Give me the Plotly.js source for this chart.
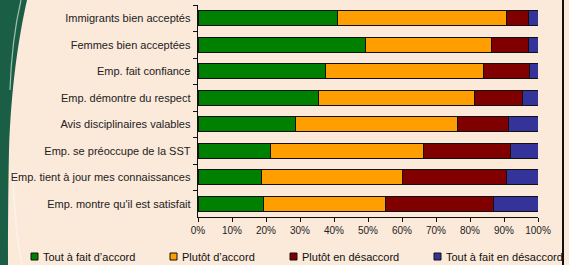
<!DOCTYPE html>
<html>
<head>
<meta charset="utf-8">
<script src="https://cdn.plot.ly/plotly-3.0.1.min.js"></script>
<style>
html,body{margin:0;padding:0;background:#FBE9DA;overflow:hidden;}
#wrap{position:relative;width:569px;height:265px;}
#deco{position:absolute;left:0;top:0;}
#chart{position:absolute;left:0;top:0;width:569px;height:265px;}
</style>
</head>
<body>
<div id="wrap">
<svg id="deco" width="569" height="265">
  <path d="M0,0 L27,0 C18,40 11,90 9,150 C8,200 8,240 8,265 L0,265 Z" fill="#1B5E46"/>
  <path d="M21,0 C14,30 11,60 10,90" stroke="#D8E8D8" stroke-width="1.2" fill="none" opacity="0.7"/>
  <path d="M13,170 C14,210 17,240 22,265" stroke="#FFF6EE" stroke-width="2" fill="none" opacity="0.6"/>
  <rect x="562" y="0" width="2" height="265" fill="#111"/>
</svg>
<div id="chart"></div>
</div>
<script>
const categories = [
  "Immigrants bien acceptés",
  "Femmes bien acceptées",
  "Emp. fait confiance",
  "Emp. démontre du respect",
  "Avis disciplinaires valables",
  "Emp. se préoccupe de la SST",
  "Emp. tient à jour mes connaissances",
  "Emp. montre qu'il est satisfait"
];
const seriesNames = ["Tout à fait d’accord", "Plutôt d’accord", "Plutôt en désaccord", "Tout à fait en désaccord"];
const toutAccord     = [41.1, 49.3, 37.6, 35.5, 28.6, 21.3, 18.7, 19.4];
const plutotAccord   = [49.5, 37.0, 46.3, 45.7, 47.7, 45.0, 41.5, 35.7];
const plutotDesac    = [6.6, 10.9, 13.6, 14.2, 15.0, 25.5, 30.4, 31.8];
const toutDesac      = [2.8, 2.8, 2.5, 4.6, 8.7, 8.2, 9.4, 13.1];
const xTickVals = [0,10,20,30,40,50,60,70,80,90,100];
const xTickText = ["0%","10%","20%","30%","40%","50%","60%","70%","80%","90%","100%"];
const colors = ["#008000", "#FF9E00", "#800000", "#333399"];

const W = 569, H = 265;
const M = {l: 198, r: 31, t: 5, b: 48};
const plotW = W - M.l - M.r, plotH = H - M.t - M.b;
const px2x = px => (px - M.l) / plotW;
const py2y = py => (H - M.b - py) / plotH;

const values = [toutAccord, plutotAccord, plutotDesac, toutDesac];
const traces = values.map((v, i) => ({
  type: "bar",
  orientation: "h",
  name: seriesNames[i],
  x: v,
  y: categories,
  marker: {color: colors[i], line: {color: "#111", width: 1}},
  hoverinfo: "skip",
  showlegend: false
}));

// manual legend (small square swatches like the original)
const legendLeft = [31, 170, 290, 434];
const legendMidY = 256.5;
const shapes = [];
const annotations = [];
seriesNames.forEach((name, i) => {
  const x0 = legendLeft[i];
  shapes.push({
    type: "rect", xref: "paper", yref: "paper",
    x0: px2x(x0), x1: px2x(x0 + 7),
    y0: py2y(legendMidY - 3.5), y1: py2y(legendMidY + 3.5),
    fillcolor: colors[i], line: {color: "#111", width: 1}
  });
  annotations.push({
    xref: "paper", yref: "paper",
    x: px2x(x0 + 9.5), y: py2y(legendMidY),
    xanchor: "left", yanchor: "middle",
    text: name, showarrow: false,
    font: {size: 11, color: "#111"}
  });
});

const layout = {
  width: W, height: H,
  margin: M,
  paper_bgcolor: "rgba(0,0,0,0)",
  plot_bgcolor: "rgba(0,0,0,0)",
  barmode: "stack",
  bargap: 0.42,
  font: {family: "Liberation Sans, Arial, sans-serif", size: 10, color: "#222"},
  showlegend: false,
  shapes: shapes,
  annotations: annotations,
  xaxis: {
    range: [0, 100],
    tickvals: xTickVals, ticktext: xTickText,
    ticks: "outside", ticklen: 4, tickcolor: "#111", tickwidth: 1,
    showline: true, linecolor: "#111", linewidth: 1.3,
    showgrid: false, zeroline: false,
    tickfont: {size: 10, color: "#222"},
    fixedrange: true
  },
  yaxis: {
    type: "category",
    autorange: "reversed",
    ticks: "outside", ticklen: 4, tickcolor: "#111", tickwidth: 1,
    tickson: "boundaries",
    showline: true, linecolor: "#111", linewidth: 1.3,
    showgrid: false, zeroline: false,
    ticklabelstandoff: 4,
    tickfont: {size: 11, color: "#222"},
    fixedrange: true
  }
};

Plotly.newPlot("chart", traces, layout, {displayModeBar: false, staticPlot: true});
</script>
</body>
</html>
